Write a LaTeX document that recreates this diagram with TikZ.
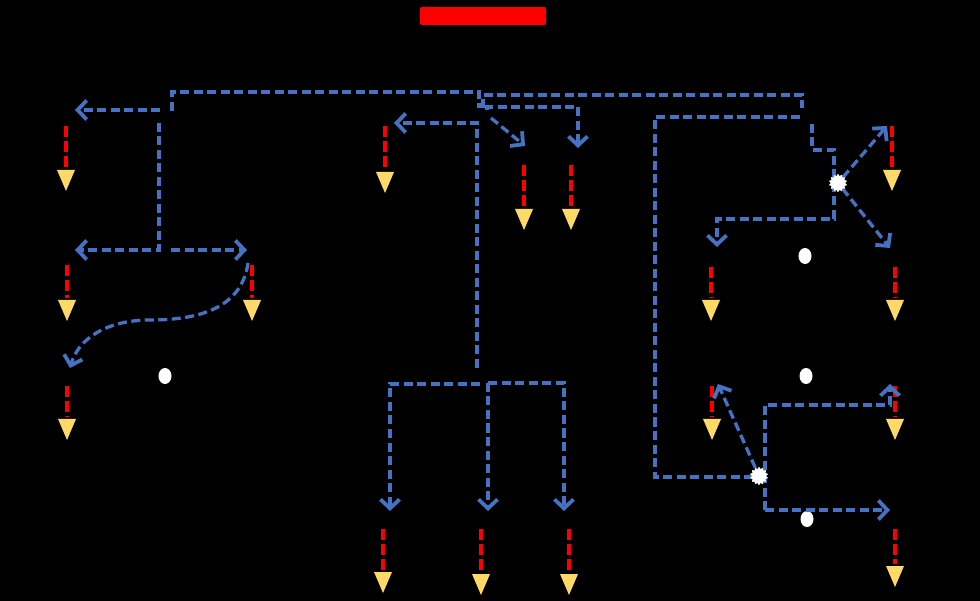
\documentclass[tikz,border=0pt]{standalone}
\usetikzlibrary{arrows.meta,shapes.geometric}
\definecolor{bl}{HTML}{4472C4}
\definecolor{yl}{HTML}{FFD966}
\tikzset{
 bd/.style={draw=bl,line width=3.3pt,dash pattern=on 9pt off 4.5pt},
 ba/.style={bd,-{Straight Barb[length=9pt,width=19pt,line width=3.8pt]}},
 rd/.style={draw=red,line width=3.4pt,dash pattern=on 11pt off 4pt},
 tri/.style={fill=yl},
 wdot/.style={ellipse,fill=white,minimum width=13pt,minimum height=16pt,inner sep=0pt},
 burst/.style={star,star points=14,star point ratio=1.3,fill=white,minimum size=18pt,inner sep=0pt},
}
\newcommand\wmk[4]{%
 \coordinate (#1a) at (#2,#3);
 \coordinate (#1c) at (#2,#4-2);
 \coordinate (#1b) at (#2,#4);
 \draw[rd] (#1a) -- (#1c);
 \fill[tri] (#1b) +(-9,0) -- +(9,0) -- +(0,21) -- cycle;
}
\begin{document}
\begin{tikzpicture}[x=1pt,y=-1pt]
\fill[black] (0,0) rectangle (980,601);
\useasboundingbox (0,0) rectangle (980,601);
\fill[red,rounded corners=2pt] (420,7) rectangle (546,25);
% markers
\wmk{m1}{66}{126}{170}
\wmk{m2}{385}{126}{172}
\wmk{m3}{524}{165}{209}
\wmk{m4}{571}{165}{209}
\wmk{m5}{892}{126}{170}
\wmk{m6}{67}{265}{300}
\wmk{m7}{252}{265}{300}
\wmk{m8}{711}{267}{300}
\wmk{m9}{895}{267}{300}
\wmk{m10}{67}{386}{419}
\wmk{m11}{712}{386}{419}
\wmk{m12}{895}{386}{419}
\wmk{m13}{383}{529}{572}
\wmk{m14}{481}{529}{574}
\wmk{m15}{569}{529}{574}
\wmk{m16}{895}{529}{566}
% dots
\node[wdot] (d1) at (165,376) {};
\node[wdot] (d2) at (805,256) {};
\node[wdot] (d3) at (806,376) {};
\node[wdot] (d4) at (807,519) {};
% coordinates
\coordinate (a1) at (172,111);
\coordinate (a2) at (479,108);
\coordinate (l1) at (160,110);
\coordinate (l1e) at (75,110);
\coordinate (l2) at (159,123);
\coordinate (l2e) at (75,250);
\coordinate (l3) at (171,250);
\coordinate (l3e) at (247,250);
\coordinate (c1) at (248,263);
\coordinate (c2) at (150,320);
\coordinate (c3) at (70,368);
\coordinate (t1) at (483,108);
\coordinate (t1e) at (802,108);
\coordinate (t2) at (487,110);
\coordinate (t2e) at (578,148);
\coordinate (t3) at (491,118);
\coordinate (t3e) at (525,146);
\coordinate (v1) at (477,368);
\coordinate (v1e) at (394,123);
\coordinate (b1) at (480,384);
\coordinate (b1e) at (390,511);
\coordinate (b2) at (488,383);
\coordinate (b2e) at (488,511);
\coordinate (b3e) at (564,511);
\coordinate (r1) at (800,117);
\coordinate (r1e) at (751,477);
\coordinate (s1) at (812,124);
\coordinate (s1e) at (717,247);
\coordinate (u1) at (887,126);
\coordinate (u2) at (890,248);
\coordinate (w1) at (718,384);
\coordinate (w0) at (765,510);
\coordinate (w2) at (890,384);
\coordinate (w3) at (890,510);
\node[burst] (k1) at (838,183) {};
\node[burst] (k2) at (759,476) {};
% blue connectors
\draw[bd] (a1) -- (172,92) -| (a2);
\draw[ba] (l1) -- (l1e);
\draw[ba] (l2) |- (l2e);
\draw[ba] (l3) -- (l3e);
\draw[ba] (c1) .. controls (242,305) and (205,320) .. (c2) .. controls (105,320) and (78,340) .. (c3);
\draw[bd] (t1) -- (483,95) -| (t1e);
\draw[ba] (t2) -- (487,107) -| (t2e);
\draw[ba] (t3) -- (t3e);
\draw[ba] (v1) |- (v1e);
\draw[ba] (b1) -| (b1e);
\draw[ba] (b2) -- (b2e);
\draw[ba] (b2) -| (b3e);
\draw[bd] (r1) -| (655,477) -- (r1e);
\draw[ba] (s1) |- (834,150) |- (717,219) -- (s1e);
\draw[ba] (k1) -- (u1);
\draw[ba] (k1) -- (u2);
\draw[ba] (k2) -- (w1);
\draw[ba] (w0) |- (890,405) -- (w2);
\draw[ba] (w0) -- (w3);
\node[burst] at (k1) {};
\node[burst] at (k2) {};
\end{tikzpicture}
\end{document}
